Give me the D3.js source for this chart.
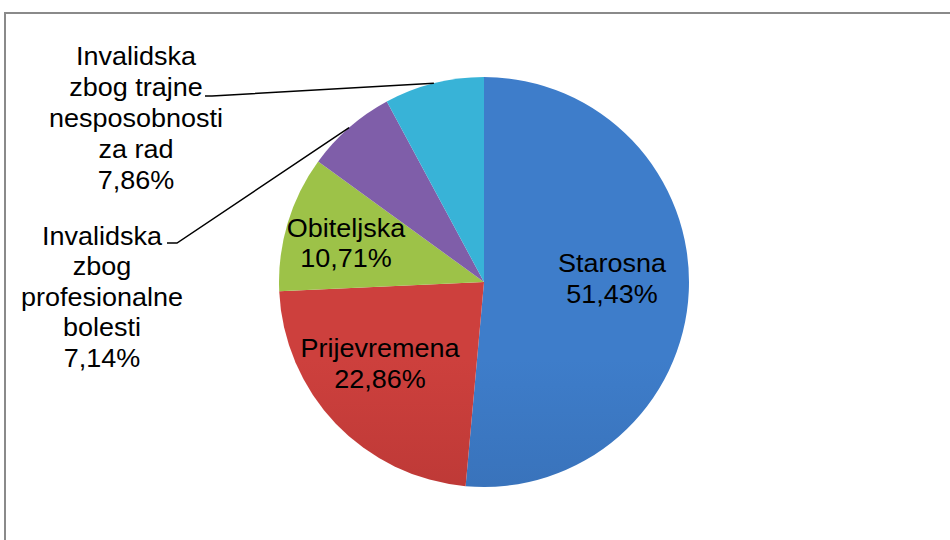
<!DOCTYPE html>
<html>
<head>
<meta charset="utf-8">
<script src="https://cdn.jsdelivr.net/npm/d3@7"></script>
<style>
  body { margin: 0; background: #fff; }
  svg text { font-family: "Liberation Sans", Arial, sans-serif; fill: #000; }
</style>
</head>
<body>
<svg width="950" height="540"></svg>
<script>
// data
let categories = ["Starosna", "Prijevremena", "Obiteljska",
  "Invalidska zbog profesionalne bolesti", "Invalidska zbog trajne nesposobnosti za rad"];
let values = [51.43, 22.86, 10.71, 7.14, 7.86];
let labelLines = [
  ["Starosna"],
  ["Prijevremena"],
  ["Obiteljska"],
  ["Invalidska", "zbog", "profesionalne", "bolesti"],
  ["Invalidska", "zbog trajne", "nesposobnosti", "za rad"]
];
let topColors = ["#3e7dca", "#cd403d", "#9dc248", "#7f5ea9", "#38b3d7"];
let botColors = ["#2e5d9b", "#9e2b29", "#7a9935", "#664990", "#2d94b3"];

let svg = d3.select("svg");
let cx = 484, cy = 282, r = 205;

// frame
svg.append("rect")
  .attr("x", 5).attr("y", 13)
  .attr("width", 960).attr("height", 560)
  .attr("fill", "none")
  .attr("stroke", "#8a8a8a")
  .attr("stroke-width", 2);

let defs = svg.append("defs");
values.forEach((v, i) => {
  let gr = defs.append("linearGradient")
    .attr("id", "g" + i)
    .attr("gradientUnits", "userSpaceOnUse")
    .attr("x1", 0).attr("x2", 0)
    .attr("y1", cy - r).attr("y2", cy + r);
  gr.append("stop").attr("offset", "0%").attr("stop-color", topColors[i]);
  gr.append("stop").attr("offset", "100%").attr("stop-color", botColors[i]);
});

let pie = d3.pie().sort(null).value(d => d)(values);
let arc = d3.arc().innerRadius(0).outerRadius(r);
let edge = d3.arc().innerRadius(r).outerRadius(r);

let g = svg.append("g").attr("transform", `translate(${cx},${cy})`);
g.selectAll("path")
  .data(pie)
  .enter().append("path")
    .attr("d", arc)
    .attr("fill", (d, i) => `url(#g${i})`);

let fmt = v => d3.format(".2f")(v).replace(".", ",") + "%";

// label positions: x center, first baseline, line height, leader start
let labelPos = [
  { x: 612, y: 272, lh: 31 },
  { x: 380, y: 357, lh: 31 },
  { x: 346, y: 237, lh: 30 },
  { x: 102, y: 245, lh: 30.5, lead: [167, 243, 177] },
  { x: 136, y: 65, lh: 31, lead: [205, 96, 212] }
];

pie.forEach((d, i) => {
  let p = labelPos[i];
  let lines = labelLines[i].concat([fmt(values[i])]);
  let t = svg.append("text")
    .attr("text-anchor", "middle")
    .attr("font-size", 25)
    .attr("transform", `translate(${p.x},0) scale(1.08,1)`);
  lines.forEach((s, j) => {
    t.append("tspan")
      .attr("x", 0)
      .attr("y", p.y + j * p.lh)
      .text(s);
  });
  if (p.lead) {
    let e = edge.centroid(d);
    svg.append("polyline")
      .attr("points", [[p.lead[0], p.lead[1]], [p.lead[2], p.lead[1]], [cx + e[0], cy + e[1]]].join(" "))
      .attr("fill", "none")
      .attr("stroke", "#000")
      .attr("stroke-width", 1.5);
  }
});
</script>
</body>
</html>
